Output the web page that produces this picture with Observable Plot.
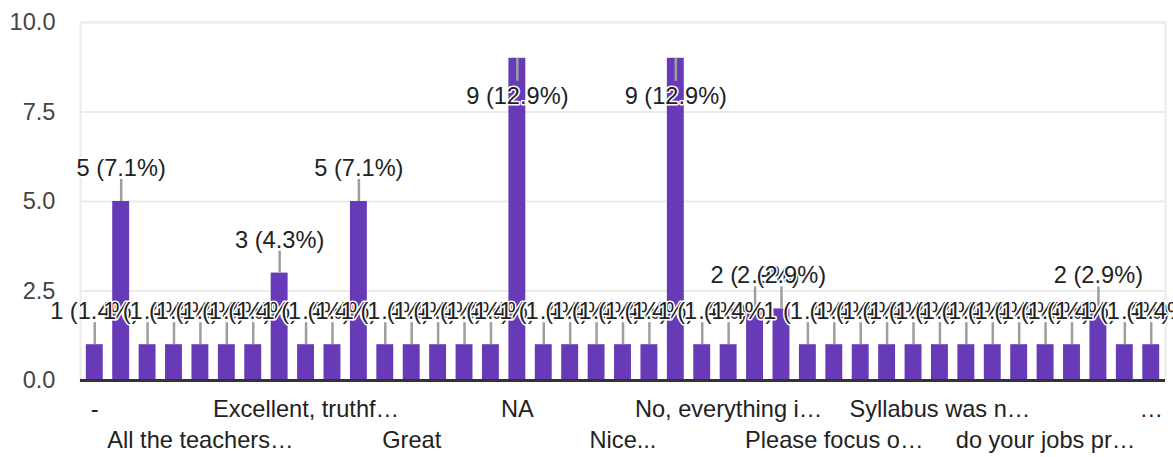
<!DOCTYPE html>
<html>
<head>
<meta charset="utf-8">
<script src="https://cdn.jsdelivr.net/npm/d3@7"></script>
<script src="https://cdn.jsdelivr.net/npm/@observablehq/plot@0.6"></script>
<style>
  html, body { margin: 0; padding: 0; background: #fff; }
  #chart svg { display: block; }
</style>
</head>
<body>
<div id="chart"></div>
<script>
// Response counts, one per answer (41 answers, in chart order)
const counts = [1,5,1,1,1,1,1,3,1,1,5,1,1,1,1,1,9,1,1,1,1,1,9,1,1,2,2,1,1,1,1,1,1,1,1,1,1,1,2,1,1];
// Visible category labels (index into counts) and their row
const tickIndex  = [0, 4, 8, 12, 16, 20, 24, 28, 32, 36, 40];
const tickLabels = ["-", "All the teachers…", "Excellent, truthf…", "Great", "NA", "Nice...",
                    "No, everything i…", "Please focus o…", "Syllabus was n…", "do your jobs pr…", "…"];
const yTicks = [0, 2.5, 5, 7.5, 10];

const W = 1173, H = 457, mt = 22, mb = 77, ml = 80, mr = 8;
const FONT = "'Liberation Sans', Arial, Helvetica, sans-serif";
const FS = 23.6;
const u = (H - mt - mb) / 10;          // pixels per unit of y
const total = d3.sum(counts);

const data = counts.map((v, i) => ({
  i, v,
  text: `${v} (${(v / total * 100).toFixed(1)}%)`,
  below: (10 - v) * u < 45
}));
const ticks = tickIndex.map((i, k) => ({i, label: tickLabels[k], row: k % 2}));

const chart = Plot.plot({
  width: W, height: H,
  marginTop: mt, marginBottom: mb, marginLeft: ml, marginRight: mr,
  style: {fontFamily: FONT, fontSize: FS + "px", background: "#fff", color: "#222"},
  x: {type: "band", domain: d3.range(counts.length), paddingInner: 0.36, paddingOuter: 0.22, round: false, axis: null},
  y: {domain: [0, 10], axis: null},
  marks: [
    Plot.ruleY(yTicks.filter(d => d > 0), {stroke: "#ebebeb", strokeWidth: 2}),
    Plot.frame({stroke: "#ebebeb", strokeWidth: 2}),
    Plot.text(yTicks, {y: d => d, text: d => d3.format(".1f")(d), frameAnchor: "left",
      textAnchor: "end", dx: -25, fill: "#444", fontSize: FS}),
    Plot.barY(data, {x: "i", y: "v", fill: "#673ab7"}),
    Plot.ruleX(data, {x: "i", y1: "v", y2: d => d.below ? d.v - 23 / u : d.v + 22 / u,
      stroke: "#9e9e9e", strokeWidth: 2.5}),
    Plot.text(data, {x: "i", y: "v", text: "text", fill: "#222",
      filter: d => !d.below, dy: -33,
      stroke: "white", strokeWidth: 3, paintOrder: "stroke", fontSize: FS}),
    Plot.text(data, {x: "i", y: "v", text: "text", fill: "#222",
      filter: d => d.below, dy: 38,
      stroke: "white", strokeWidth: 3, paintOrder: "stroke", fontSize: FS}),
    Plot.ruleY([0], {stroke: "#333", strokeWidth: 3}),
    Plot.text(ticks.filter(d => d.row === 0), {x: "i", y: () => 0, text: "label", dy: 29, fill: "#222", fontSize: FS}),
    Plot.text(ticks.filter(d => d.row === 1), {x: "i", y: () => 0, text: "label", dy: 60, fill: "#222", fontSize: FS})
  ]
});
document.getElementById("chart").appendChild(chart);
</script>
</body>
</html>
